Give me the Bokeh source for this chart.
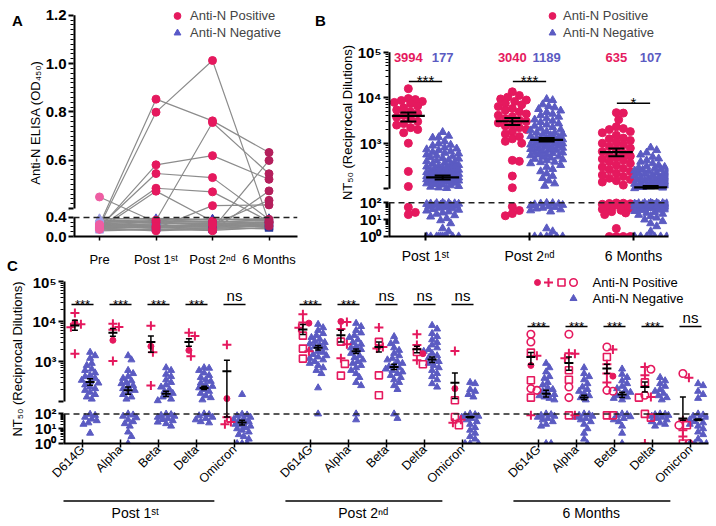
import math
from bokeh.plotting import figure
from bokeh.models import (FixedTicker, Span, Legend, LegendItem, Range1d, Title)
from bokeh.layouts import column, row
from bokeh.embed import file_html
from bokeh.resources import INLINE
from bokeh.core.properties import value

FONT = "Liberation Sans"
RED = "#e5195e"
BLUE = "#5b5bc2"
GREY = "#8c8c8c"

# ---------------- data: panel A (Anti-N ELISA OD450, one row per participant) ----------------
a_labels = ["Pre", "Post 1ˢᵗ", "Post 2ⁿᵈ", "6 Months"]
a_pos = [
    [0.448, 0.30, 0.25, 0.22],
    [0.25, 0.853, 0.763, 0.632],
    [0.22, 0.799, 1.013, 0.30],
    [0.20, 0.34, 0.756, 0.544],
    [0.18, 0.581, 0.619, 0.521],
    [0.21, 0.545, 0.528, 0.36],
    [0.19, 0.484, 0.469, 0.32],
    [0.15, 0.472, 0.32, 0.28],
    [0.23, 0.17, 0.412, 0.415],
    [0.17, 0.12, 0.16, 0.599],
    [0.16, 0.20, 0.12, 0.473],
    [0.24, 0.22, 0.25, 0.434],
]
a_neg = [
    [0.31, 0.28, 0.26, 0.30], [0.22, 0.25, 0.20, 0.24], [0.35, 0.32, 0.30, 0.36],
    [0.18, 0.20, 0.17, 0.22], [0.27, 0.30, 0.33, 0.28], [0.38, 0.36, 0.35, 0.38],
    [0.14, 0.16, 0.15, 0.18], [0.25, 0.22, 0.24, 0.21], [0.29, 0.34, 0.31, 0.33],
    [0.20, 0.18, 0.22, 0.26], [0.33, 0.29, 0.27, 0.31], [0.16, 0.14, 0.18, 0.16],
    [0.24, 0.27, 0.29, 0.25], [0.37, 0.38, 0.36, 0.34], [0.12, 0.15, 0.13, 0.19],
    [0.28, 0.24, 0.21, 0.27], [0.21, 0.23, 0.26, 0.20], [0.34, 0.31, 0.37, 0.35],
    [0.19, 0.21, 0.19, 0.23], [0.26, 0.19, 0.23, 0.29],
]
a_pos_colors = ["#ee5ea3", RED, RED, "#b41f5c"]
a_neg_colors = ["#a0a0e6", "#5858c8", "#3c3cb2", "#2b3898"]

# ---------------- data: panel B (NT50) ----------------
b_labels = ["Post 1ˢᵗ", "Post 2ⁿᵈ", "6 Months"]
b_pos_p1 = [15800, 9600, 9100, 8700, 8300, 7900, 7400, 6600, 6000, 5400, 4900, 4500, 4100,
            3700, 3400, 3000, 2700, 2500, 2200, 2000, 1700, 1000, 240, 112, 55, 27, 20]
b_neg_p1 = [1750, 1450, 1350, 1320, 1100, 980, 920, 880, 800, 760, 730, 700, 660, 640, 610,
            590, 560, 540, 510, 490, 470, 455, 430, 415, 400, 385, 370, 355, 340, 330, 318,
            305, 295, 285, 275, 268, 258, 250, 242, 235, 228, 220, 214, 207, 200, 194, 188,
            182, 176, 171, 166, 160, 155, 150, 146, 142, 138, 134, 130, 126, 122, 118, 114,
            110, 106, 103, 180, 175, 168, 163, 158, 152, 200, 210, 230, 260, 300,
            99, 97, 95, 92, 90, 87, 84, 81, 78, 74, 70, 66, 62, 58, 54, 50, 46, 42, 38,
            34, 30, 26, 22, 18, 15, 12, 9, 6, 3, 2, 1, 1, 1, 1, 1, 1, 1, 1, 1, 1]
b_pos_p2 = [13500, 11200, 10300, 9400, 8900, 8300, 7600, 7000, 6400, 5800, 5300, 4900, 4400,
            4100, 3800, 3500, 3200, 3000, 2800, 2600, 2400, 2200, 2000, 1800, 1600, 1400,
            1250, 1100, 1000, 420, 400, 190, 105, 60, 35, 23, 17]
b_neg_p2 = [9300, 8800, 7100, 6500, 6100, 5600, 5200, 4800, 4400, 4100, 3800, 3500, 3300,
            3100, 2900, 2700, 2550, 2400, 2250, 2100, 2000, 1900, 1800, 1700, 1600, 1500,
            1420, 1350, 1280, 1210, 1150, 1090, 1030, 980, 930, 880, 830, 790, 750, 710,
            670, 630, 600, 570, 540, 510, 480, 450, 420, 390, 360, 330, 300, 270, 240, 215,
            190, 170, 150, 130, 115, 1700, 1550, 1300, 1250, 1180, 1120, 1060, 1000, 950,
            900, 850, 800, 740, 690, 620, 560, 500, 440, 380,
            98, 95, 90, 85, 80, 74, 68, 62, 56, 50, 45, 40, 35, 30, 3, 2, 1, 1, 1, 1, 1, 1]
b_pos_6m = [4700, 4600, 3300, 2300, 2100, 2000, 1800, 1700, 1500, 1300, 1250, 1150, 1050, 1000,
            920, 850, 780, 720, 660, 600, 560, 520, 480, 450, 420, 390, 360, 330, 300, 280,
            260, 240, 220, 200, 185, 170, 160, 150, 140, 120,
            98, 95, 92, 88, 82, 75, 68, 60, 55, 48, 42, 36, 30, 25, 20, 3, 1, 1, 1, 1]
b_neg_6m = [800, 700, 620, 560, 500, 460, 420, 390, 360, 330, 310, 290, 270, 250, 235, 220,
            205, 192, 180, 170, 160, 150, 142, 135, 128, 121, 115, 110, 105, 102, 300, 280,
            260, 240, 225, 210, 198, 186, 175, 165, 156, 147, 139, 131, 124, 118, 112, 108,
            99, 97, 95, 92, 89, 86, 83, 80, 76, 72, 68, 64, 60, 56, 52, 48, 44, 40, 36, 32,
            28, 25, 22, 19, 16, 13, 10, 8, 6, 4, 2, 1, 1, 1, 1, 1, 1, 1,
            98, 94, 88, 82, 77, 70, 65, 58, 45, 38]
b_gmt = [3994, 177, 3040, 1189, 635, 107]
b_sem_lo = [3000, 160, 2500, 1090, 520, 101]
b_sem_hi = [4750, 196, 3600, 1300, 770, 115]
b_sig = ["***", "***", "*"]

# ---------------- data: panel C (NT50 by variant) ----------------
c_variants = ["D614G", "Alpha", "Beta", "Delta", "Omicron"]
c_periods = ["Post 1ˢᵗ", "Post 2ⁿᵈ", "6 Months"]
c_pos_vals = [
    [16300, 9400, 8500, 7200, 1570],
    [8800, 7300, 6200, 3390, 1030],
    [7800, 2400, 1700, 250],
    [5200, 4350, 1900, 1350],
    [2640, 118, 60, 28, 20],
    [15100, 9500, 9100, 7000, 4440, 2100, 1800, 1180],
    [10000, 9700, 6500, 3140, 2700, 1200, 870, 444],
    [7030, 3100, 2300, 2100, 450, 143],
    [4790, 2600, 1730, 1570, 1070, 850],
    [1830, 210, 107, 62, 40, 25, 17],
    [4790, 3080, 1670, 1400, 800, 340, 210, 190, 125, 80],
    [4800, 1600, 1570, 1200, 603, 350, 230, 125, 80, 80],
    [2300, 2000, 1300, 850, 500, 430, 300, 190, 180, 80, 80],
    [730, 640, 450, 300, 143, 125, 130, 100, 56, 1],
    [500, 395, 37, 17, 17, 8, 3, 1, 1],
]
c_pos_marks = [
    ["plus", "dot", "plus", "plus", "plus"],
    ["plus", "plus", "plus", "dot", "plus"],
    ["plus", "dot", "plus", "plus"],
    ["plus", "plus", "dot", "plus"],
    ["plus", "dot", "plus", "plus", "plus"],
    ["plus", "plus", "dot", "plus", "sq", "sq", "plus", "sq"],
    ["dot", "plus", "plus", "sq", "plus", "plus", "sq", "sq"],
    ["plus", "sq", "plus", "plus", "sq", "sq"],
    ["plus", "plus", "sq", "dot", "plus", "sq"],
    ["plus", "dot", "sq", "sq", "plus", "plus", "sq"],
    ["ring", "ring", "sq", "plus", "dot", "sq", "ring", "ring", "sq", "plus"],
    ["ring", "plus", "plus", "plus", "sq", "sq", "ring", "ring", "sq", "plus"],
    ["ring", "plus", "sq", "plus", "plus", "dot", "plus", "ring", "ring", "sq", "sq"],
    ["plus", "ring", "plus", "sq", "ring", "sq", "plus", "sq", "sq", "plus"],
    ["ring", "plus", "plus", "sq", "ring", "plus", "plus", "sq", "ring"],
]
c_neg_vals = [
    [1700, 1400, 1200, 900, 800, 650, 600, 520, 450, 420, 380, 340, 310, 290, 260, 230, 210,
     190, 170, 150, 130, 115, 95, 80, 60, 45, 35, 25, 20, 5],
    [1400, 1100, 600, 500, 420, 380, 330, 300, 280, 250, 230, 210, 190, 170, 150, 130, 115,
     100, 85, 70, 55, 40, 30, 22, 15, 6, 3, 1],
    [700, 600, 480, 420, 350, 300, 260, 230, 200, 180, 160, 145, 130, 115, 105, 98, 90, 80,
     70, 60, 50, 42, 35, 28, 22, 15],
    [700, 680, 600, 520, 450, 400, 350, 320, 290, 260, 240, 220, 200, 180, 160, 140, 125,
     110, 100, 90, 75, 60, 50, 40, 30, 25],
    [150, 95, 85, 75, 60, 50, 42, 35, 30, 25, 20, 18, 15, 12, 10, 8, 6, 4, 3, 2, 1, 1, 1],
    [8500, 7000, 6000, 5000, 4500, 4000, 3600, 3200, 3000, 2800, 2600, 2400, 2200, 2000, 1800,
     1700, 1500, 1400, 1300, 1200, 1100, 1000, 900, 800, 700, 600, 500, 220, 100],
    [9000, 7500, 6000, 5200, 4500, 4000, 3500, 3000, 2700, 2400, 2200, 2000, 1800, 1600, 1400,
     1250, 1100, 1000, 900, 800, 700, 600, 500, 400, 300, 250, 100, 40],
    [4200, 3200, 2800, 2200, 1900, 1600, 1400, 1200, 1100, 1000, 900, 800, 750, 700, 650, 600,
     550, 500, 450, 400, 350, 300, 250, 200, 100, 50],
    [8000, 6500, 5000, 4200, 3500, 3000, 2600, 2200, 2000, 1800, 1600, 1400, 1250, 1100, 1000,
     900, 800, 700, 600, 500, 420, 350, 280, 230],
    [300, 280, 200, 180, 150, 130, 100, 90, 80, 70, 60, 50, 40, 30, 20, 12, 8, 5, 3, 2, 1, 1, 1],
    [900, 700, 550, 420, 380, 300, 260, 220, 200, 180, 160, 150, 140, 130, 120, 110, 100, 90,
     80, 70, 60, 50, 40, 30, 20, 15, 1, 1],
    [700, 500, 420, 350, 280, 230, 200, 180, 160, 140, 125, 110, 100, 90, 80, 70, 60, 50, 40,
     30, 20, 10, 5, 2, 1],
    [650, 480, 400, 330, 280, 240, 210, 190, 170, 150, 140, 130, 120, 110, 100, 90, 80, 65, 50,
     40, 30, 15, 5, 1],
    [400, 330, 280, 240, 200, 180, 160, 140, 125, 110, 100, 95, 90, 80, 70, 60, 50, 40, 30, 25,
     20, 15],
    [280, 250, 180, 150, 120, 100, 85, 70, 60, 50, 40, 30, 25, 20, 15, 10, 6, 4, 2, 1, 1, 1, 1],
]
c_pos_gmt = [8000, 5270, 3070, 3070, 570, 6270, 4520, 2310, 2020, 296, 1300, 918, 664, 231, 48]
c_pos_lo = [6000, 4270, 1700, 2400, 62, 4700, 3070, 1740, 1650, 118, 850, 603, 500, 173, 37]
c_pos_hi = [10700, 6640, 4350, 3730, 1070, 8360, 6030, 3070, 2400, 516, 1670, 1300, 850, 307, 130]
c_neg_gmt = [307, 190, 157, 218, 26, 2220, 1800, 730, 1115, 62, 157, 125, 149, 100, 41]
c_neg_lo = [254, 151, 133, 200, 18, 1950, 1580, 630, 950, 55, 130, 110, 125, 96, 36]
c_neg_hi = [373, 232, 180, 240, 37, 2500, 2050, 850, 1300, 68, 190, 143, 170, 100, 46]
c_sig = ["***", "***", "***", "***", "ns", "***", "***", "ns", "ns", "ns",
         "***", "***", "***", "***", "ns"]

# ---------------- scale helpers (broken axes) ----------------
R_LOG, G_LOG = 0.37, 0.31


def tlog(v):
    v = max(v, 1.0)
    if v <= 100:
        return math.log10(v) * R_LOG
    return 2 * R_LOG + G_LOG + math.log10(v) - 2


def tlog_up(v):
    return 2 * R_LOG + G_LOG + math.log10(v) - 2


R_A, G_A = 0.197, 0.037


def tlin(v):
    if v <= 0.4:
        return v * R_A
    return 0.4 * R_A + G_A + (v - 0.4)


def tlin_up(v):
    return 0.4 * R_A + G_A + (v - 0.4)


def rk(t):
    return round(t, 6)


def swarm(tvals, ypx, diam, maxw):
    idx = sorted(range(len(tvals)), key=lambda i: -tvals[i])
    placed = []
    offs = [0.0] * len(tvals)
    step = diam / 3.0
    cands = [0.0]
    k = 1
    while k * step <= maxw + 1e-9:
        cands += [k * step, -k * step]
        k += 1
    for i in idx:
        y = tvals[i] * ypx
        near = [(px, py) for px, py in placed if abs(py - y) < diam]
        best = None
        best_d = -1
        best_c = 0.0
        for c in cands:
            d = min((math.hypot(c - px, y - py) for px, py in near), default=1e9)
            if d >= diam:
                best = c
                break
            if d > best_d:
                best_d = d
                best_c = c
        if best is None:
            best = best_c
        offs[i] = best
        placed.append((best, y))
    return offs


def base_fig(fw, fh, xr, yr, bl, br, bt, bb):
    p = figure(frame_width=fw, frame_height=fh, x_range=xr, y_range=yr,
               min_border_left=bl, min_border_right=br, min_border_top=bt,
               min_border_bottom=bb, output_backend="svg", toolbar_location=None)
    p.xgrid.visible = False
    p.ygrid.visible = False
    p.outline_line_color = None
    p.background_fill_color = "white"
    p.border_fill_color = "white"
    return p


def style_axis(ax, size="14px", bold=True):
    ax.axis_line_width = 2
    ax.axis_line_color = "black"
    ax.major_tick_line_width = 2
    ax.major_tick_line_color = "black"
    ax.major_tick_out = 5
    ax.major_tick_in = 0
    ax.minor_tick_line_width = 1
    ax.minor_tick_line_color = "black"
    ax.minor_tick_out = 3
    ax.minor_tick_in = 0
    ax.major_label_text_font = FONT
    ax.major_label_text_font_size = size
    ax.major_label_text_font_style = "bold" if bold else "normal"
    ax.major_label_text_color = "black"
    ax.major_label_standoff = 2
    ax.axis_label_text_font = FONT
    ax.axis_label_text_font_size = "13px"
    ax.axis_label_text_font_style = "normal"
    ax.axis_label_text_color = "black"


def broken_yaxis(p, majors, minors, top, x0, segs):
    ax = p.yaxis[0]
    style_axis(ax, size="15px")
    ax.ticker = FixedTicker(ticks=[rk(t) for t, _ in majors], minor_ticks=minors)
    ax.major_label_overrides = {rk(t): s for t, s in majors}
    ax.bounds = (0, top)
    ax.axis_line_color = None
    p.segment(x0=[x0] * len(segs), x1=[x0] * len(segs), y0=[a for a, _ in segs],
              y1=[b for _, b in segs], line_color="black", line_width=4)
    return ax


def log_ticks():
    majors = [(tlog(1), "10⁰"), (tlog(10), "10¹"), (tlog(100), "10²"), (tlog_up(100), ""),
              (tlog_up(1e3), "10³"), (tlog_up(1e4), "10⁴"), (tlog_up(1e5), "10⁵")]
    minors = ([rk(tlog_up(k * 10 ** d)) for d in (2, 3, 4) for k in range(2, 10)]
              + [rk(tlog(k * 10 ** d)) for d in (0, 1) for k in range(2, 10)])
    return majors, minors


def text_kw(size, bold=False, color="black", align="center", baseline="middle"):
    return dict(text_font=value(FONT), text_font_size=size,
                text_font_style="bold" if bold else "normal", text_color=color,
                text_align=align, text_baseline=baseline)


def ylabel_title(p, text, standoff):
    t = Title(text=text, align="center", text_font=FONT, text_font_size="13px",
              text_font_style="normal", text_color="black", standoff=standoff)
    p.add_layout(t, "left")


def blank(f):
    f.xaxis.visible = False
    f.yaxis.visible = False
    f.xgrid.visible = False
    f.ygrid.visible = False
    f.outline_line_color = None


ROW1_H = 273

# ======================= Panel A =======================
XA = 56.5
xa = Range1d(-26 / XA, -26 / XA + 224 / XA)
ya = Range1d(0, 228 / 241.5)
pa = base_fig(224, 228, xa, ya, 49, 15, 8, 37)

xs_lines, ys_lines = [], []
for rec in a_neg + a_pos:
    xs_lines.append(list(range(len(a_labels))))
    ys_lines.append([tlin(v) for v in rec])
pa.multi_line(xs_lines, ys_lines, line_color=GREY, line_width=1.2)
pa.add_layout(Span(location=tlin(0.4), dimension="width", line_dash="6 4",
                   line_width=1.5, line_color="#222222"))
leg_a = {}
for k in range(len(a_labels)):
    rn = pa.scatter([k] * len(a_neg), [tlin(r[k]) for r in a_neg], marker="triangle",
                    size=8, fill_color=a_neg_colors[k], line_color=a_neg_colors[k])
    if k == 1:
        leg_a["neg"] = rn
for k in range(len(a_labels)):
    rp = pa.scatter([k] * len(a_pos), [tlin(r[k]) for r in a_pos], marker="circle",
                    size=8, fill_color=a_pos_colors[k], line_color=a_pos_colors[k])
    if k == 1:
        leg_a["pos"] = rp

maj_a = [(tlin(0.0), "0.0"), (tlin(0.4), "0.4"), (tlin_up(0.4), ""), (tlin(0.6), "0.6"),
         (tlin(0.8), "0.8"), (tlin(1.0), "1.0"), (tlin(1.2), "1.2")]
min_a = ([rk(tlin(0.4 + 0.02 * i)) for i in range(1, 40) if i % 10 != 0]
         + [rk(tlin(0.1 * i)) for i in (1, 2, 3)])
broken_yaxis(pa, maj_a, min_a, tlin(1.2), xa.start,
             [(0, tlin(0.4)), (tlin_up(0.4), tlin(1.2))])
ylabel_title(pa, "Anti-N ELISA (OD₄₅₀)", 0)

xa_ax = pa.xaxis[0]
style_axis(xa_ax, size="13px", bold=False)
xa_ax.ticker = FixedTicker(ticks=list(range(len(a_labels))), minor_ticks=[])
xa_ax.major_label_overrides = {i: s for i, s in enumerate(a_labels)}
xa_ax.major_tick_line_width = 1.5
xa_ax.major_tick_out = 4
xa_ax.major_label_standoff = 11

legA = Legend(items=[LegendItem(label="Anti-N Positive", renderers=[leg_a["pos"]]),
                     LegendItem(label="Anti-N Negative", renderers=[leg_a["neg"]])],
              location=(94, 195), orientation="vertical", border_line_color=None,
              background_fill_alpha=0, padding=0, spacing=0, margin=0,
              label_height=17, glyph_height=17, glyph_width=20, label_standoff=3,
              label_text_font=FONT, label_text_font_size="13px")
pa.add_layout(legA)

# ======================= Panel B =======================
XB, YB = 104.0, 45.5
xb = Range1d(-37 / XB, -37 / XB + 280 / XB)
yb = Range1d(0, 228 / YB)
pb = base_fig(280, 228, xb, yb, 60, 48, 8, 37)
pb.add_layout(Span(location=tlog(100), dimension="width", line_dash="6 4",
                   line_width=1.5, line_color="#222222"))
b_groups = [b_pos_p1, b_neg_p1, b_pos_p2, b_neg_p2, b_pos_6m, b_neg_6m]
leg_b = {}
centers_b = []
for gi, vals in enumerate(b_groups):
    cat = gi // 2
    side = -1 if gi % 2 == 0 else 1
    cx = cat + side * 0.165
    centers_b.append(cx)
    ts = [tlog(v) for v in vals]
    offs = swarm(ts, YB, 7.0 if side < 0 else 6.0, 14 if side < 0 else 16)
    xs = [cx + o / XB for o in offs]
    if side < 0:
        r = pb.scatter(xs, ts, marker="circle", size=8, fill_color=RED, line_color=RED)
        leg_b.setdefault("pos", r)
    else:
        r = pb.scatter(xs, ts, marker="triangle", size=8, fill_color=BLUE, line_color=BLUE)
        leg_b.setdefault("neg", r)

hw, cw = 16.5 / XB, 8 / XB
pb.segment(x0=[c - hw for c in centers_b], x1=[c + hw for c in centers_b],
           y0=[tlog(v) for v in b_gmt], y1=[tlog(v) for v in b_gmt],
           line_color="black", line_width=2.2)
pb.segment(x0=centers_b, x1=centers_b, y0=[tlog(v) for v in b_sem_lo],
           y1=[tlog(v) for v in b_sem_hi], line_color="black", line_width=2)
pb.segment(x0=[c - cw for c in centers_b] * 2, x1=[c + cw for c in centers_b] * 2,
           y0=[tlog(v) for v in b_sem_lo + b_sem_hi], y1=[tlog(v) for v in b_sem_lo + b_sem_hi],
           line_color="black", line_width=2)
pb.text(x=centers_b, y=[(236 - 57) / YB] * 6, text=[str(v) for v in b_gmt],
        **text_kw("13px", bold=True, color=[RED, BLUE] * 3))
sig_lvl_b = [(236 - 81) / YB, (236 - 81) / YB, (236 - 102.7) / YB]
pb.segment(x0=[k - 0.16 for k in range(3)], x1=[k + 0.16 for k in range(3)],
           y0=sig_lvl_b, y1=sig_lvl_b, line_color="black", line_width=1.5)
pb.text(x=[k + 0.0 for k in range(3)], y=[s + 1 / YB for s in sig_lvl_b], text=b_sig,
        **text_kw("15px", baseline="alphabetic"))

maj_log, min_log = log_ticks()
broken_yaxis(pb, maj_log, min_log, tlog_up(1e5), xb.start,
             [(0, tlog(100)), (tlog_up(100), tlog_up(1e5))])
ylabel_title(pb, "NT₅₀ (Reciprocal Dilutions)", 0)

bx = pb.xaxis[0]
style_axis(bx, size="14px", bold=False)
bx.ticker = FixedTicker(ticks=[0, 1, 2], minor_ticks=[])
bx.major_label_overrides = {i: s for i, s in enumerate(b_labels)}
bx.major_tick_in = 4
bx.major_tick_out = 4
bx.major_label_standoff = 7

legB = Legend(items=[LegendItem(label="Anti-N Positive", renderers=[leg_b["pos"]]),
                     LegendItem(label="Anti-N Negative", renderers=[leg_b["neg"]])],
              location=(154, 195), orientation="vertical", border_line_color=None,
              background_fill_alpha=0, padding=0, spacing=0, margin=0,
              label_height=17, glyph_height=17, glyph_width=20, label_standoff=1,
              label_text_font=FONT, label_text_font_size="13px")
pb.add_layout(legB)


# panel letters (narrow figures with pixel coordinates)
def letter_fig(x0, x1, letters):
    f = figure(frame_width=x1 - x0, frame_height=ROW1_H - 8, x_range=Range1d(x0, x1),
               y_range=Range1d(ROW1_H, 8), min_border_left=0, min_border_right=0,
               min_border_top=8, min_border_bottom=0, output_backend="svg",
               toolbar_location=None)
    blank(f)
    f.text(x=[l[1] for l in letters], y=[l[2] for l in letters], text=[l[0] for l in letters],
           **text_kw("15px", bold=True))
    return f


fLA = letter_fig(0, 24, [("A", 17, 20), ("C", 12, 265)])
fLB = letter_fig(312, 328, [("B", 320, 20)])

# ======================= Panel C =======================
XC, YC = 38.0, 40.0
C_BOTTOM = 56
xc = Range1d(-0.5, -0.5 + 645 / XC)
yc = Range1d(0, 169 / YC)
pc = base_fig(645, 169, xc, yc, 63, 8, 1, C_BOTTOM)
pc.add_layout(Span(location=tlog(100), dimension="width", line_dash="6 4",
                   line_width=1.5, line_color="#222222"))
MK = {
    "dot": dict(marker="circle", size=6, fill_color=RED, line_color=RED),
    "plus": dict(marker="cross", size=9, line_color=RED, line_width=2),
    "sq": dict(marker="square", size=7, fill_color=None, line_color=RED, line_width=1.6),
    "ring": dict(marker="circle", size=7.5, fill_color=None, line_color=RED, line_width=1.6),
}
slots = [g * 6 + v for g in range(len(c_periods)) for v in range(len(c_variants))]
pos_x = [s - 0.2 for s in slots]
neg_x = [s + 0.2 for s in slots]
for gi in range(len(slots)):
    tn = [tlog(v) for v in c_neg_vals[gi]]
    on = swarm(tn, YC, 5.0, 9)
    pc.scatter([neg_x[gi] + o / XC for o in on], tn, marker="triangle", size=7,
               fill_color=BLUE, line_color=BLUE)
    tp = [tlog(v) for v in c_pos_vals[gi]]
    op = swarm(tp, YC, 6.0, 6)
    for mk, style in MK.items():
        sel = [i for i, m in enumerate(c_pos_marks[gi]) if m == mk]
        if sel:
            pc.scatter([pos_x[gi] + op[i] / XC for i in sel], [tp[i] for i in sel], **style)

mw, mc = 4.5 / XC, 3.0 / XC
for xs_c, gm, lo, hi in ((pos_x, c_pos_gmt, c_pos_lo, c_pos_hi),
                         (neg_x, c_neg_gmt, c_neg_lo, c_neg_hi)):
    pc.segment(x0=[x - mw for x in xs_c], x1=[x + mw for x in xs_c],
               y0=[tlog(v) for v in gm], y1=[tlog(v) for v in gm],
               line_color="black", line_width=2)
    pc.segment(x0=xs_c, x1=xs_c, y0=[tlog(v) for v in lo], y1=[tlog(v) for v in hi],
               line_color="black", line_width=1.5)
    pc.segment(x0=[x - mc for x in xs_c] * 2, x1=[x + mc for x in xs_c] * 2,
               y0=[tlog(v) for v in lo + hi], y1=[tlog(v) for v in lo + hi],
               line_color="black", line_width=1.5)

sig_lvl_c = [(443 - 304) / YC if s < 12 else (443 - 326) / YC for s in slots]
pc.segment(x0=[s - 0.29 for s in slots], x1=[s + 0.29 for s in slots],
           y0=sig_lvl_c, y1=sig_lvl_c, line_color="black", line_width=1.5)
star_i = [i for i, s in enumerate(c_sig) if s != "ns"]
ns_i = [i for i, s in enumerate(c_sig) if s == "ns"]
pc.text(x=[slots[i] for i in star_i], y=[sig_lvl_c[i] + 0.5 / YC for i in star_i],
        text=[c_sig[i] for i in star_i], **text_kw("13px", baseline="alphabetic"))
pc.text(x=[slots[i] for i in ns_i], y=[sig_lvl_c[i] + 1.0 / YC for i in ns_i],
        text=[c_sig[i] for i in ns_i], **text_kw("15px", baseline="bottom"))

# legend of panel C (four positive marker types + negative triangle)
ly1, ly2 = (443 - 282) / YC, (443 - 298) / YC
for mk, lx in (("dot", 537), ("plus", 548), ("sq", 561), ("ring", 573)):
    pc.scatter([(lx - 82) / XC], [ly1], **MK[mk])
pc.scatter([(573 - 82) / XC], [ly2], marker="triangle", size=7, fill_color=BLUE,
           line_color=BLUE)
pc.text(x=[(592 - 82) / XC] * 2, y=[ly1, ly2], text=["Anti-N Positive", "Anti-N Negative"],
        **text_kw("13px", align="left"))

cy = broken_yaxis(pc, maj_log, min_log, tlog_up(1e5), xc.start,
                  [(0, tlog(100)), (tlog_up(100), tlog_up(1e5))])
cy.axis_label = "NT₅₀ (Reciprocal Dilutions)"
cy.axis_label_standoff = 4

cx_ax = pc.xaxis[0]
style_axis(cx_ax, size="12.5px", bold=False)
cx_ax.ticker = FixedTicker(ticks=slots, minor_ticks=[])
cx_ax.major_label_overrides = {s: c_variants[i % 5] for i, s in enumerate(slots)}
cx_ax.major_label_orientation = math.pi / 4
cx_ax.major_tick_in = 4
cx_ax.major_tick_out = 4
cx_ax.major_tick_line_width = 1.5
cx_ax.major_label_standoff = 0

# group labels under panel C (pixel rows of the page)
GTOP = ROW1_H + 1 + 169 + C_BOTTOM
GBOT = 522
pdg = figure(frame_width=645, frame_height=GBOT - GTOP, x_range=xc,
             y_range=Range1d(GBOT, GTOP), min_border_left=63, min_border_right=8,
             min_border_top=0, min_border_bottom=0, output_backend="svg",
             toolbar_location=None)
blank(pdg)
gstart = [g * 6 for g in range(len(c_periods))]
pdg.segment(x0=[g - 0.66 for g in gstart], x1=[g + 3.47 for g in gstart],
            y0=[GTOP + 1.5] * 3, y1=[GTOP + 1.5] * 3, line_color="black", line_width=1.5)
pdg.text(x=[g + 1.39 for g in gstart], y=[GTOP + 13.5] * 3, text=c_periods, **text_kw("14px"))

layout = column(row(fLA, pa, fLB, pb), pc, pdg)
open("out.html", "w").write(file_html(layout, INLINE))
